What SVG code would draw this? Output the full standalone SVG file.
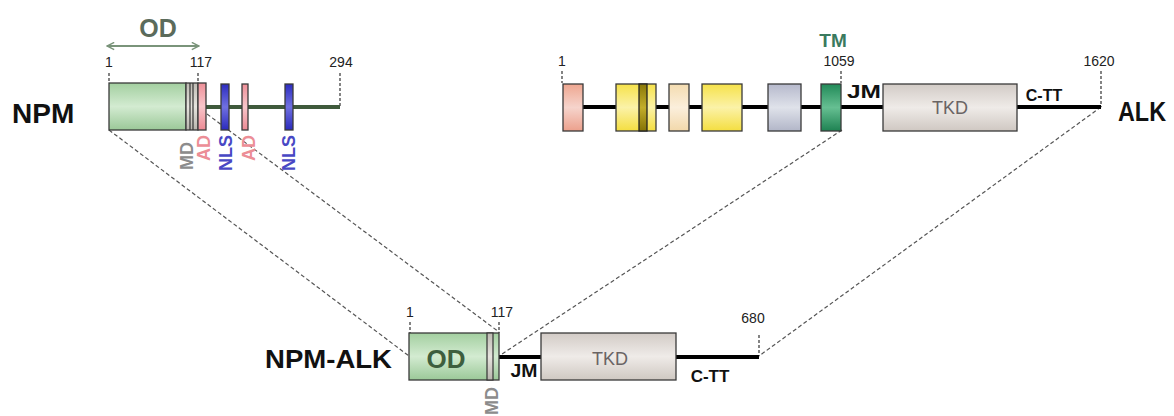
<svg xmlns="http://www.w3.org/2000/svg" width="1174" height="416" viewBox="0 0 1174 416">
<defs>
<linearGradient id="gGreen" x1="0" y1="0" x2="0" y2="1"><stop offset="0" stop-color="#a3cfa0"/><stop offset="0.5" stop-color="#d3ebd1"/><stop offset="1" stop-color="#9bc898"/></linearGradient>
<linearGradient id="gPink" x1="0" y1="0" x2="0" y2="1"><stop offset="0" stop-color="#ee8f98"/><stop offset="0.5" stop-color="#f8c6ca"/><stop offset="1" stop-color="#ec8a94"/></linearGradient>
<linearGradient id="gBlue" x1="0" y1="0" x2="0" y2="1"><stop offset="0" stop-color="#2c2cc0"/><stop offset="0.5" stop-color="#7070e0"/><stop offset="1" stop-color="#2a2abc"/></linearGradient>
<linearGradient id="gSalmon" x1="0" y1="0" x2="0" y2="1"><stop offset="0" stop-color="#eea690"/><stop offset="0.5" stop-color="#f6d4cc"/><stop offset="1" stop-color="#eca08c"/></linearGradient>
<linearGradient id="gYellow" x1="0" y1="0" x2="0" y2="1"><stop offset="0" stop-color="#f6e24a"/><stop offset="0.5" stop-color="#fbf2a8"/><stop offset="1" stop-color="#f4de40"/></linearGradient>
<linearGradient id="gPeach" x1="0" y1="0" x2="0" y2="1"><stop offset="0" stop-color="#f4dcb0"/><stop offset="0.5" stop-color="#fbefdc"/><stop offset="1" stop-color="#f2d8aa"/></linearGradient>
<linearGradient id="gSlate" x1="0" y1="0" x2="0" y2="1"><stop offset="0" stop-color="#b6b9cc"/><stop offset="0.5" stop-color="#dfe2ea"/><stop offset="1" stop-color="#b2b6c8"/></linearGradient>
<linearGradient id="gTM" x1="0" y1="0" x2="0" y2="1"><stop offset="0" stop-color="#218a58"/><stop offset="0.5" stop-color="#66bf92"/><stop offset="1" stop-color="#1e8252"/></linearGradient>
<linearGradient id="gTKD" x1="0" y1="0" x2="0" y2="1"><stop offset="0" stop-color="#d2cbc6"/><stop offset="0.5" stop-color="#efebe8"/><stop offset="1" stop-color="#cfc8c2"/></linearGradient>
<linearGradient id="gMD" x1="0" y1="0" x2="0" y2="1"><stop offset="0" stop-color="#bdbab2"/><stop offset="0.5" stop-color="#e6e4de"/><stop offset="1" stop-color="#b8b5ad"/></linearGradient>
<linearGradient id="gStripe" x1="0" y1="0" x2="0" y2="1"><stop offset="0" stop-color="#8a7808"/><stop offset="0.5" stop-color="#c2ad2a"/><stop offset="1" stop-color="#857306"/></linearGradient>
<marker id="odArrow" viewBox="0 0 10 10" refX="9" refY="5" markerWidth="9" markerHeight="9" orient="auto-start-reverse" markerUnits="userSpaceOnUse">
<path d="M1,1 L9,5 L1,9" fill="none" stroke="#7a947a" stroke-width="1.6"/>
</marker>
</defs>
<style>
.box{stroke:#3a3a3a;stroke-width:1.3}
.lab{font-family:"Liberation Sans",Arial,sans-serif;font-weight:bold;fill:#111}
.num{font-family:"Liberation Sans",Arial,sans-serif;font-size:14px;fill:#222;text-anchor:middle}
.tick{stroke:#333;stroke-width:1.2;stroke-dasharray:3 2;fill:none}
.conn{stroke:#555;stroke-width:1.2;stroke-dasharray:4 2.5;fill:none}
.vt{font-family:"Liberation Sans",Arial,sans-serif;font-weight:bold;font-size:18px}
.tkd{font-family:"Liberation Sans",Arial,sans-serif;font-size:18px;fill:#6a6464;text-anchor:middle}
</style>

<g id="connectors">
<line class="conn" x1="109" y1="130" x2="409" y2="356"/>
<line class="conn" x1="207" y1="114" x2="499" y2="332"/>
<line class="conn" x1="842" y1="130" x2="502" y2="354"/>
<line class="conn" x1="1101" y1="107" x2="759" y2="356"/>
</g>

<g id="npm">
<text class="lab" x="12" y="123" font-size="28">NPM</text>
<line x1="107" y1="46" x2="199" y2="46" stroke="#7a947a" stroke-width="2" marker-start="url(#odArrow)" marker-end="url(#odArrow)"/>
<text class="lab" x="158" y="37" font-size="25" text-anchor="middle" style="fill:#5b6b5b">OD</text>
<text class="num" x="109" y="67">1</text>
<text class="num" x="201" y="67">117</text>
<text class="num" x="341" y="67">294</text>
<line class="tick" x1="109" y1="73" x2="109" y2="83"/>
<line class="tick" x1="198" y1="73" x2="198" y2="83"/>
<line class="tick" x1="340" y1="73" x2="340" y2="107"/>
<line x1="206" y1="107" x2="340" y2="107" stroke="#3f5a3c" stroke-width="4"/>
<rect class="box" x="109" y="83" width="77" height="47" fill="url(#gGreen)"/>
<rect class="box" x="186" y="83" width="12" height="47" fill="url(#gMD)"/>
<line x1="190" y1="83" x2="190" y2="130" stroke="#333" stroke-width="1.2"/>
<line x1="193" y1="83" x2="193" y2="130" stroke="#333" stroke-width="1.2"/>
<rect class="box" x="198" y="83" width="8" height="47" fill="url(#gPink)"/>
<rect class="box" x="221" y="84" width="8" height="46" fill="url(#gBlue)"/>
<rect class="box" x="242" y="84" width="6" height="46" fill="url(#gPink)"/>
<rect class="box" x="285" y="84" width="8" height="46" fill="url(#gBlue)"/>
<text class="vt" transform="translate(193,170) rotate(-90)" fill="#8c8c8c">MD</text>
<text class="vt" transform="translate(210,161) rotate(-90)" fill="#ec8e96">AD</text>
<text class="vt" transform="translate(232,171) rotate(-90)" fill="#4848c4">NLS</text>
<text class="vt" transform="translate(255,161) rotate(-90)" fill="#ec8e96">AD</text>
<text class="vt" transform="translate(295,171) rotate(-90)" fill="#4848c4">NLS</text>
</g>

<g id="alk">
<text class="lab" x="1118" y="121" font-size="27" textLength="48" lengthAdjust="spacingAndGlyphs">ALK</text>
<text class="lab" x="833" y="47" font-size="19" text-anchor="middle" style="fill:#3a7a5e">TM</text>
<text class="num" x="562" y="66">1</text>
<text class="num" x="839" y="66">1059</text>
<text class="num" x="1099" y="66">1620</text>
<line class="tick" x1="562" y1="71" x2="562" y2="83"/>
<line class="tick" x1="841" y1="71" x2="841" y2="83"/>
<line class="tick" x1="1101" y1="71" x2="1101" y2="107"/>
<line x1="583" y1="107" x2="1101" y2="107" stroke="#000" stroke-width="4"/>
<rect class="box" x="563" y="84" width="20" height="47" fill="url(#gSalmon)"/>
<rect class="box" x="616" y="84" width="40" height="47" fill="url(#gYellow)"/>
<rect x="639" y="84" width="8" height="47" fill="url(#gStripe)" stroke="#222" stroke-width="1.3"/>
<rect class="box" x="669" y="84" width="20" height="47" fill="url(#gPeach)"/>
<rect class="box" x="702" y="84" width="40" height="47" fill="url(#gYellow)"/>
<rect class="box" x="768" y="84" width="33" height="47" fill="url(#gSlate)"/>
<rect class="box" x="821" y="84" width="20" height="47" fill="url(#gTM)"/>
<rect class="box" x="883" y="84" width="134" height="47" fill="url(#gTKD)"/>
<text class="tkd" x="950" y="114">TKD</text>
<text class="lab" x="864" y="98" font-size="19" text-anchor="middle" textLength="34" lengthAdjust="spacingAndGlyphs">JM</text>
<text class="lab" x="1044" y="101" font-size="16" text-anchor="middle">C-TT</text>
</g>

<g id="npm-alk">
<text class="lab" x="265" y="368" font-size="26" textLength="127" lengthAdjust="spacingAndGlyphs">NPM-ALK</text>
<text class="num" x="410" y="317">1</text>
<text class="num" x="502" y="317">117</text>
<text class="num" x="753" y="323">680</text>
<line class="tick" x1="410" y1="322" x2="410" y2="333"/>
<line class="tick" x1="499" y1="322" x2="499" y2="333"/>
<line class="tick" x1="759" y1="335" x2="759" y2="356"/>
<line x1="499" y1="357" x2="759" y2="357" stroke="#000" stroke-width="4"/>
<rect class="box" x="409" y="333" width="90" height="47" fill="url(#gGreen)"/>
<rect x="487" y="333" width="6" height="47" fill="url(#gMD)" stroke="#333" stroke-width="1.2"/>
<text class="lab" x="446" y="368" font-size="26" text-anchor="middle" style="fill:#3e5e3e">OD</text>
<rect class="box" x="541" y="333" width="135" height="47" fill="url(#gTKD)"/>
<text class="tkd" x="610" y="365">TKD</text>
<text class="lab" x="524" y="377" font-size="18" text-anchor="middle" textLength="27" lengthAdjust="spacingAndGlyphs">JM</text>
<text class="lab" x="710" y="382" font-size="17" text-anchor="middle">C-TT</text>
<text class="vt" transform="translate(498,415) rotate(-90)" fill="#8c8c8c">MD</text>
</g>
</svg>
